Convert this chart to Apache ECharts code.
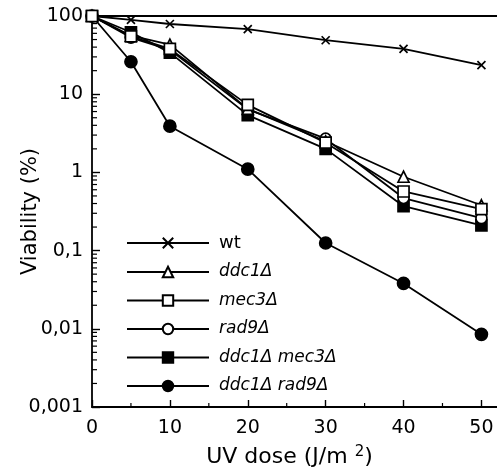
<!DOCTYPE html>
<html>
<head>
<meta charset="utf-8">
<script src="https://cdn.jsdelivr.net/npm/echarts@6/dist/echarts.min.js"></script>
<style>
html,body{margin:0;padding:0;background:#fff;}
#chart{width:497px;height:470px;}
</style>
</head>
<body>
<div id="chart"></div>
<script>
// ---- data ----
var doses = [0, 5, 10, 20, 30, 40, 50];
var wt        = [100, 89, 79, 68, 49, 38, 23.5];
var ddc1      = [100, 56, 43, 6.5, 2.5, 0.88, 0.38];
var mec3      = [100, 55, 38, 7.3, 2.4, 0.57, 0.34];
var rad9      = [100, 53, 37, 6.4, 2.7, 0.47, 0.26];
var ddc1mec3  = [100, 62, 34, 5.4, 2.0, 0.37, 0.21];
var ddc1rad9  = [100, 26, 3.9, 1.1, 0.125, 0.038, 0.0085];
var seriesNames = ['wt', 'ddc1Δ', 'mec3Δ', 'rad9Δ', 'ddc1Δ mec3Δ', 'ddc1Δ rad9Δ'];
var xTickLabels = [0, 10, 20, 30, 40, 50];
var xHalfTicks = [5, 15, 25, 35, 45];
var yTickLabels = {100: '100', 10: '10', 1: '1', 0.1: '0,1', 0.01: '0,01', 0.001: '0,001'};
var yMinorTicks = [
  0.002,0.003,0.004,0.005,0.006,0.007,0.008,0.009,
  0.02,0.03,0.04,0.05,0.06,0.07,0.08,0.09,
  0.2,0.3,0.4,0.5,0.6,0.7,0.8,0.9,
  2,3,4,5,6,7,8,9,
  20,30,40,50,60,70,80,90
];

function pairs(arr) { return doses.map(function (d, i) { return [d, arr[i]]; }); }

var chart = echarts.init(document.getElementById('chart'), null, {renderer: 'canvas'});
var black = '#000';
var FONT = 'DejaVu Sans';

function lineSeries(name, arr, symbol, size, fill, z) {
  return {
    name: name, type: 'line', data: pairs(arr),
    symbol: symbol, symbolSize: size, z: z,
    lineStyle: {color: black, width: 1.8},
    itemStyle: {color: fill, borderColor: black, borderWidth: 1.7},
    emphasis: {disabled: true}, animation: false
  };
}

var option = {
  animation: false,
  grid: {left: 92, right: 0, top: 16, bottom: 63, containLabel: false, outerBoundsMode: 'none'},
  xAxis: [{
    type: 'value', min: 0, max: 52, interval: 10, position: 'bottom',
    axisLine: {lineStyle: {color: black, width: 1.8}},
    axisTick: {inside: true, length: 7, lineStyle: {color: black, width: 1.4}, customValues: xTickLabels},
    axisLabel: {customValues: xTickLabels, color: black, fontFamily: FONT, fontSize: 19, margin: 12},
    splitLine: {show: false},
    name: 'UV dose (J/m {s|2})', nameLocation: 'middle', nameGap: 38, nameMoveOverlap: false,
    nameTextStyle: {color: black, fontFamily: FONT, fontSize: 22, padding: [0, 10, 0, 0],
      rich: {s: {fontSize: 15, verticalAlign: 'top', padding: [0, 0, 9, 0], color: black, fontFamily: FONT}}}
  }, {
    type: 'value', min: 0, max: 52, position: 'top',
    axisLine: {show: true, lineStyle: {color: black, width: 1.8}},
    axisTick: {show: false}, axisLabel: {show: false}, splitLine: {show: false}
  }],
  yAxis: {
    type: 'log', logBase: 10, min: 0.001, max: 100,
    axisLine: {lineStyle: {color: black, width: 1.8}},
    axisTick: {inside: true, length: 8, lineStyle: {color: black, width: 1.4}},
    axisLabel: {color: black, fontFamily: FONT, fontSize: 19, margin: 9,
      formatter: function (v) { var k = Object.keys(yTickLabels).find(function (t) { return Math.abs(Math.log10(+t) - Math.log10(v)) < 1e-6; }); return k ? yTickLabels[k] : ''; }},
    splitLine: {show: false},
    name: 'Viability (%)', nameLocation: 'middle', nameGap: 51, nameMoveOverlap: false,
    nameTextStyle: {color: black, fontFamily: FONT, fontSize: 21}
  },
  legend: {
    orient: 'vertical', left: 121, top: 229,
    itemWidth: 82, itemHeight: 13, itemGap: 11.5,
    data: seriesNames,
    selectedMode: false,
    formatter: function (n) { return n === 'wt' ? '{n|' + n + '}' : '{i|' + n + '}'; },
    textStyle: {
      color: black, fontFamily: FONT, fontSize: 17, padding: [0, 0, 0, 5],
      rich: {
        n: {fontFamily: FONT, fontSize: 18, color: black},
        i: {fontFamily: FONT, fontSize: 17, fontStyle: 'italic', color: black}
      }
    }
  },
  series: [
    lineSeries('wt', wt, 'path://M0,0L10,10M10,0L0,10', 8, 'none', 3),
    lineSeries('ddc1Δ', ddc1, 'triangle', 11, '#fff', 5),
    lineSeries('mec3Δ', mec3, 'rect', 11, '#fff', 6),
    lineSeries('rad9Δ', rad9, 'circle', 11, '#fff', 4),
    lineSeries('ddc1Δ mec3Δ', ddc1mec3, 'rect', 11, black, 3),
    lineSeries('ddc1Δ rad9Δ', ddc1rad9, 'circle', 12, black, 3),
    {
      type: 'custom', name: 'yMinor', silent: true, z: 2,
      data: yMinorTicks.map(function (v) { return [0, v]; }),
      renderItem: function (params, api) {
        var p = api.coord([api.value(0), api.value(1)]);
        return {type: 'line', shape: {x1: p[0], y1: p[1], x2: p[0] + 5, y2: p[1]},
          style: {stroke: black, lineWidth: 1.2}};
      }
    },
    {
      type: 'custom', name: 'xMinor', silent: true, z: 2,
      data: xHalfTicks.map(function (v) { return [v, 0.001]; }),
      renderItem: function (params, api) {
        var p = api.coord([api.value(0), api.value(1)]);
        return {type: 'line', shape: {x1: p[0], y1: p[1], x2: p[0], y2: p[1] - 4},
          style: {stroke: black, lineWidth: 1.2}};
      }
    }
  ]
};
chart.setOption(option);
</script>
</body>
</html>
